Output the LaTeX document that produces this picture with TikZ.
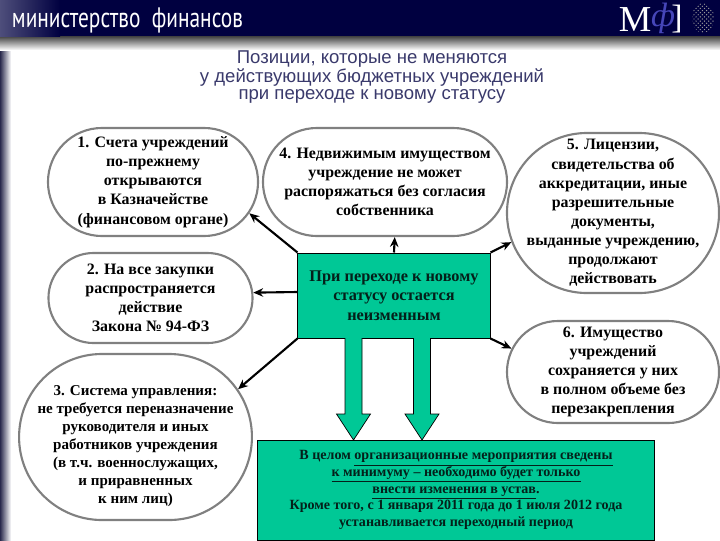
\documentclass[tikz,border=0pt]{standalone}
\usepackage{fontspec}
\setmainfont{Liberation Serif}
\newfontfamily\titlefont{Liberation Sans}
\newfontfamily\headfont{PT Sans}
\usepackage{xcolor}
\usetikzlibrary{arrows.meta,patterns,shapes.misc}
\definecolor{navy}{HTML}{000040}
\definecolor{slate}{HTML}{3A3A6C}
\definecolor{mint}{HTML}{00C896}
\definecolor{rim}{HTML}{808080}
\definecolor{ink}{HTML}{04201A}
\tikzset{
  stadium/.style={rounded rectangle,draw=rim,line width=1.5pt,fill=white,inner sep=0pt},
  stadtext/.style={inner sep=0pt,align=center,font=\bfseries\fontsize{11.3}{13.6}\selectfont},
  greenbox/.style={rectangle,draw=black,line width=0.7pt,fill=mint,inner sep=0pt,align=center,text=ink},
  link/.style={-{Stealth[length=7pt,width=6pt]},line width=1.5pt,black},
  blockarrow/.style={draw=black,line width=0.5pt,fill=mint}
}
\begin{document}
\begin{tikzpicture}[x=0.025cm,y=-0.025cm]
  \useasboundingbox (0,0) rectangle (720,540);
  \fill[white] (0,0) rectangle (720,540);
  \shade[left color=slate!70!black,right color=white] (0,36) rectangle (11,540);
  \shade[top color=black!75,bottom color=white] (0,36) rectangle (720,50);
  \fill[navy] (0,0) rectangle (720,36);
  \shade[left color=slate!90!white,right color=navy] (0,0) rectangle (60,36);
  \node[text=white,xscale=0.76,font=\headfont\fontsize{20}{22}\selectfont] (ministry) at (127.5,20) {министерство\ \ финансов};
  \node[text=white,font=\fontsize{26}{28}\selectfont] (logom) at (635,20) {М};
  \node[text=blue!45!gray,font=\itshape\fontsize{24}{26}\selectfont] (logof) at (663,18) {ф};
  \node[text=white,font=\fontsize{24}{26}\selectfont] (logob) at (677,19) {]};
  \fill[pattern=crosshatch dots,pattern color=gray!80] (703,18) ellipse (11 and 15);

  \node[text=slate,align=center,font=\titlefont\fontsize{13.2}{12.5}\selectfont] (title) at (372,77) {Позиции, которые не меняются\\у действующих бюджетных учреждений\\при переходе к новому статусу};

  \node[stadium,minimum width=5.25cm,minimum height=2.7cm,label={[stadtext]center:{1. Счета учреждений\\по-прежнему\\открываются\\в Казначействе\\(финансовом органе)}}] (accounts) at (153,182) {};
  \node[stadium,minimum width=5.1cm,minimum height=2.25cm,label={[stadtext]center:{2. На все закупки\\распространяется\\действие\\Закона № 94-ФЗ}}] (purchases) at (150.5,298) {};
  \node[stadium,minimum width=5.82cm,minimum height=4.15cm,label={[stadtext,yshift=-0.225cm,font=\bfseries\fontsize{10.7}{12.8}\selectfont]center:{3. Система управления:\\не требуется переназначение\\руководителя и иных\\работников учреждения\\(в т.ч. военнослужащих,\\и приравненных\\к ним лиц)}}] (management) at (135.5,437) {};
  \node[stadium,minimum width=6.1cm,minimum height=2.7cm,label={[stadtext]center:{4. Недвижимым имуществом\\учреждение не может\\распоряжаться без согласия\\собственника}}] (realty) at (385,182) {};
  \node[stadium,minimum width=5.3cm,minimum height=4cm,label={[stadtext]center:{5. Лицензии,\\свидетельства об\\аккредитации, иные\\разрешительные\\документы,\\выданные учреждению,\\продолжают\\действовать}}] (licences) at (613,213) {};
  \node[stadium,minimum width=5.3cm,minimum height=2.55cm,label={[stadtext]center:{6. Имущество\\учреждений\\сохраняется у них\\в полном объеме без\\перезакрепления}}] (property) at (613,372) {};

  \node[greenbox,minimum width=4.8cm,minimum height=2.125cm,font=\bfseries\fontsize{11.6}{13.8}\selectfont] (status) at (394,295.5) {При переходе к новому\\статусу остается\\неизменным};
  \node[greenbox,minimum width=9.9cm,minimum height=2.5cm,font=\bfseries\fontsize{10}{11.8}\selectfont] (summary) at (456,490) {В целом \underline{организационные мероприятия сведены}\\\underline{к минимуму – необходимо будет только}\\\underline{внести изменения в устав}.\\Кроме того, с 1 января 2011 года до 1 июля 2012 года\\устанавливается переходный период};

  \draw[link] (status.north west) -- (accounts.-18);
  \draw[link] (status.west |- 0,292) -- (purchases.3.4);
  \draw[link] (status.south west) -- (management.25.8);
  \draw[link] (status.north) -- (realty.-80.5);
  \draw[link] (status.north east) -- (licences.196.2);
  \draw[link] (status.south east) -- (property.167);
  \foreach \ax in {353.5,422}{\draw[blockarrow] ({\ax-8.5},338)--({\ax-8.5},414)--({\ax-17},414)--(\ax,440)--({\ax+17},414)--({\ax+8.5},414)--({\ax+8.5},338);}
\end{tikzpicture}
\end{document}
